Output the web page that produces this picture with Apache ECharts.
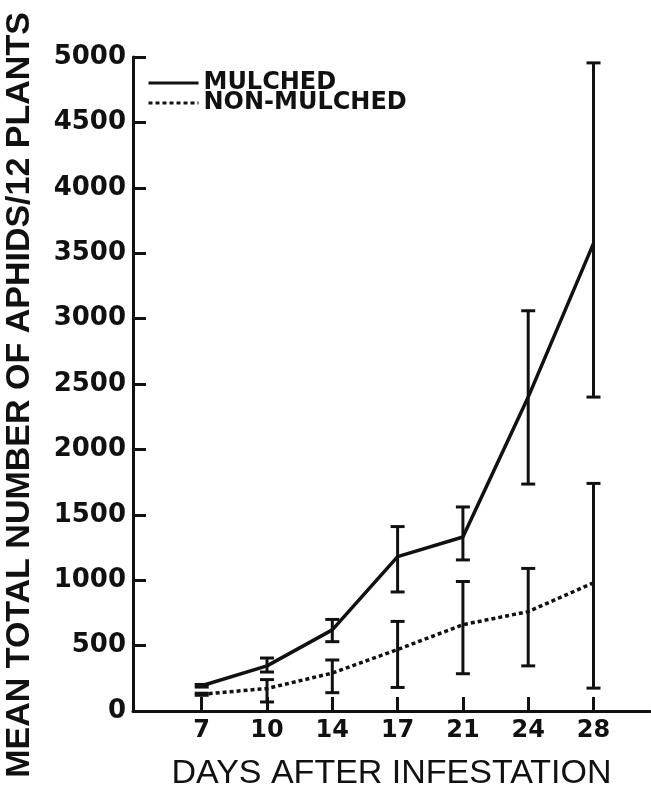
<!DOCTYPE html>
<html>
<head>
<meta charset="utf-8">
<script src="https://cdn.jsdelivr.net/npm/echarts@6/dist/echarts.min.js"></script>
<style>
  html, body { margin: 0; padding: 0; background: #fff; }
  #chart { width: 651px; height: 791px; }
</style>
</head>
<body>
<div id="chart"></div>
<script>
// days after infestation (equally spaced in the figure)
const days = ['7', '10', '14', '17', '21', '24', '28']
// mulched: mean and error bar ends
const mulchedMean = [193, 345, 620, 1180, 1330, 2400, 3575]
const mulchedLow = [183, 298, 530, 910, 1155, 1735, 2400]
const mulchedHigh = [203, 405, 700, 1410, 1560, 3060, 4955]
// non-mulched: mean and error bar ends
const nonMean = [128, 172, 290, 470, 660, 760, 980]
const nonLow = [120, 69, 140, 180, 285, 345, 175]
const nonHigh = [136, 240, 390, 685, 990, 1090, 1740]
const yTicks = [0, 500, 1000, 1500, 2000, 2500, 3000, 3500, 4000, 4500, 5000]

const ink = '#111'
const idx = days.map((d, i) => i)

let chart = echarts.init(document.getElementById('chart'), null, {renderer: 'canvas'})

function errorBars(low, high) {
  return {
    type: 'custom',
    silent: true,
    z: 5,
    data: idx.map(i => [i, low[i], high[i]]),
    encode: {x: 0, y: [1, 2]},
    renderItem(params, api) {
      let x = api.value(0)
      let p1 = api.coord([x, api.value(1)])
      let p2 = api.coord([x, api.value(2)])
      let half = 7
      let style = {stroke: ink, lineWidth: 3}
      return {
        type: 'group',
        children: [
          {type: 'line', shape: {x1: p1[0], y1: p1[1], x2: p2[0], y2: p2[1]}, style: style},
          {type: 'line', shape: {x1: p1[0] - half, y1: p1[1], x2: p1[0] + half, y2: p1[1]}, style: style},
          {type: 'line', shape: {x1: p2[0] - half, y1: p2[1], x2: p2[0] + half, y2: p2[1]}, style: style}
        ]
      }
    }
  }
}

let options = {
  animation: false,
  backgroundColor: '#fff',
  grid: {
    left: 133,
    right: 1,
    top: 57,
    bottom: 80,
    outerBoundsMode: 'none'
  },
  legend: {
    orient: 'vertical',
    left: 142,
    top: 66,
    itemWidth: 50,
    itemHeight: 14,
    itemGap: -4,
    data: ['MULCHED', 'NON-MULCHED'],
    // hide the legend symbol, keep only the line
    itemStyle: {color: 'transparent', borderColor: 'transparent', borderWidth: 0},
    lineStyle: {width: 3},
    textStyle: {
      fontFamily: 'DejaVu Sans',
      fontWeight: 'bold',
      fontSize: 24,
      lineHeight: 21,
      color: ink
    }
  },
  xAxis: {
    type: 'value',
    min: -1.052,
    max: 6.865,
    name: 'DAYS AFTER INFESTATION',
    nameLocation: 'middle',
    nameGap: 46,
    nameTextStyle: {
      fontFamily: 'Liberation Sans',
      fontSize: 34,
      color: ink
    },
    splitLine: {show: false},
    axisLine: {
      onZero: false,
      lineStyle: {color: ink, width: 3}
    },
    axisTick: {
      inside: true,
      length: 14,
      customValues: idx,
      lineStyle: {color: ink, width: 3}
    },
    axisLabel: {
      customValues: idx,
      margin: 8,
      fontFamily: 'DejaVu Sans',
      fontWeight: 'bold',
      fontSize: 24,
      color: ink,
      formatter: v => days[Math.round(v)] || ''
    }
  },
  yAxis: {
    type: 'value',
    min: 0,
    max: 5000,
    interval: 500,
    name: 'MEAN TOTAL NUMBER OF APHIDS/12 PLANTS',
    nameLocation: 'middle',
    nameGap: 96,
    nameTextStyle: {
      fontFamily: 'Liberation Sans',
      fontWeight: 'bold',
      fontSize: 34,
      color: ink,
      padding: [0, 22, 0, 0]
    },
    splitLine: {show: false},
    axisLine: {
      show: true,
      onZero: false,
      lineStyle: {color: ink, width: 3}
    },
    axisTick: {
      show: true,
      inside: true,
      length: 13,
      lineStyle: {color: ink, width: 3}
    },
    axisLabel: {
      margin: 7,
      fontFamily: 'DejaVu Sans',
      fontWeight: 'bold',
      fontSize: 26,
      color: ink,
      customValues: yTicks,
      formatter: v => String(v)
    }
  },
  series: [
    {
      name: 'MULCHED',
      type: 'line',
      smooth: false,
      symbol: 'none',
      z: 4,
      data: idx.map(i => [i, mulchedMean[i]]),
      lineStyle: {color: ink, width: 3.5, type: 'solid'},
      itemStyle: {color: ink}
    },
    {
      name: 'NON-MULCHED',
      type: 'line',
      smooth: false,
      symbol: 'none',
      z: 4,
      data: idx.map(i => [i, nonMean[i]]),
      lineStyle: {color: ink, width: 3.5, type: [4, 3]},
      itemStyle: {color: ink}
    },
    errorBars(mulchedLow, mulchedHigh),
    errorBars(nonLow, nonHigh)
  ]
}

chart.setOption(options)
</script>
</body>
</html>
